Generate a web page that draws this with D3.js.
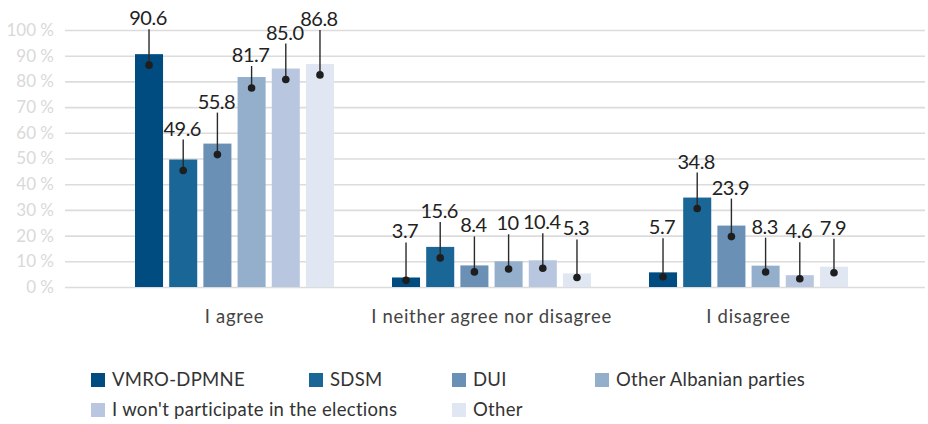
<!DOCTYPE html>
<html>
<head>
<meta charset="utf-8">
<script src="https://cdn.jsdelivr.net/npm/d3@7"></script>
<style>
  html, body { margin: 0; padding: 0; background: #fff; }
  svg { display: block; font-family: "Lato", "Noto Sans", sans-serif; }
</style>
</head>
<body>
<svg id="chart" width="928" height="424"></svg>
<script>
// Survey answers by party preference (percent)
const categories = ["I agree", "I neither agree nor disagree", "I disagree"];
const series = ["VMRO-DPMNE", "SDSM", "DUI", "Other Albanian parties",
                "I won't participate in the elections", "Other"];
const vmro      = [90.6, 3.7, 5.7];
const sdsm      = [49.6, 15.6, 34.8];
const dui       = [55.8, 8.4, 23.9];
const otherAlb  = [81.7, 10, 8.3];
const noVote    = [85.0, 10.4, 4.6];
const other     = [86.8, 5.3, 7.9];
const valueLabels = [
  ["90.6", "3.7", "5.7"],
  ["49.6", "15.6", "34.8"],
  ["55.8", "8.4", "23.9"],
  ["81.7", "10", "8.3"],
  ["85.0", "10.4", "4.6"],
  ["86.8", "5.3", "7.9"]
];
const yTicks = [0, 10, 20, 30, 40, 50, 60, 70, 80, 90, 100];

const seriesValues = [vmro, sdsm, dui, otherAlb, noVote, other];
const colors = ["#004c80", "#1a6696", "#6a90b5", "#94afcc", "#b8c7df", "#e0e7f2"];

// leader line lengths above each bar top (px), staggered so labels don't collide
const leaderLift = [
  [25, 35, 34],
  [20, 25, 25],
  [31, 29, 27],
  [11, 27, 28],
  [25, 27, 33],
  [34, 34, 28]
];

const svg = d3.select("#chart");
const gridLeft = 65, gridRight = 925;
const y = d3.scaleLinear().domain([0, 100]).range([287, 30]);
const x0 = d3.scaleBand().domain(categories).range([106, 877]).padding(0);
const inner = 199;
const x1 = d3.scaleBand().domain(series)
  .range([(x0.bandwidth() - inner) / 2, (x0.bandwidth() + inner) / 2])
  .paddingInner(0.18).paddingOuter(0);

// gridlines + y tick labels
const yAxis = d3.axisLeft(y).tickValues(yTicks)
  .tickSize(-(gridRight - gridLeft)).tickPadding(11)
  .tickFormat(d => d + " %");
const gy = svg.append("g").attr("transform", `translate(${gridLeft},0)`).call(yAxis);
gy.select(".domain").remove();
gy.selectAll(".tick line").attr("stroke", "#dcdcdc").attr("stroke-width", 1.6);
gy.selectAll(".tick text").attr("fill", "#d9d9d9").attr("font-size", 17)
  .attr("font-family", "Lato, sans-serif");

// category labels
const xAxis = d3.axisBottom(x0).tickSize(0).tickPadding(0);
const gx = svg.append("g").attr("transform", "translate(0,307)").call(xAxis);
gx.select(".domain").remove();
gx.selectAll(".tick text").attr("fill", "#444").attr("font-size", 18.5)
  .attr("letter-spacing", "0.7")
  .attr("font-family", "Lato, sans-serif").attr("dy", "0.85em");

// bars
const cells = [];
series.forEach((s, si) => {
  categories.forEach((c, ci) => {
    cells.push({ s, si, c, ci, v: seriesValues[si][ci], label: valueLabels[si][ci] });
  });
});

const barG = svg.append("g");
barG.selectAll("rect").data(cells).join("rect")
  .attr("x", d => x0(d.c) + x1(d.s))
  .attr("y", d => y(d.v))
  .attr("width", x1.bandwidth())
  .attr("height", d => y(0) - y(d.v))
  .attr("fill", d => colors[d.si]);

// value labels with leader lines and dots
const labG = svg.append("g");
cells.forEach(d => {
  const cx = x0(d.c) + x1(d.s) + x1.bandwidth() / 2;
  const top = y(d.v);
  const h = y(0) - top;
  const dotY = top + Math.min(11, h * 0.3);
  const lineTop = top - leaderLift[d.si][d.ci];
  labG.append("line")
    .attr("x1", cx).attr("x2", cx)
    .attr("y1", lineTop).attr("y2", dotY)
    .attr("stroke", "#2a2a2a").attr("stroke-width", 1.4);
  labG.append("circle")
    .attr("cx", cx).attr("cy", dotY).attr("r", 3.8).attr("fill", "#1e1e1e");
  labG.append("text")
    .attr("x", cx - 1).attr("y", lineTop - 4)
    .attr("text-anchor", "middle")
    .attr("font-size", 20).attr("fill", "#222")
    .attr("letter-spacing", "-0.5")
    .text(d.label);
});

// legend
const legendPos = [[91, 380], [309, 380], [452, 380], [595, 380], [91, 410], [452, 410]];
const lg = svg.append("g");
series.forEach((s, i) => {
  const [lx, ly] = legendPos[i];
  lg.append("rect").attr("x", lx).attr("y", ly - 7).attr("width", 14).attr("height", 14)
    .attr("fill", colors[i]);
  lg.append("text").attr("x", lx + 21).attr("y", ly).attr("dy", "0.35em")
    .attr("font-size", 18.5).attr("letter-spacing", "0.3")
    .attr("fill", "#333").text(s);
});
</script>
</body>
</html>
